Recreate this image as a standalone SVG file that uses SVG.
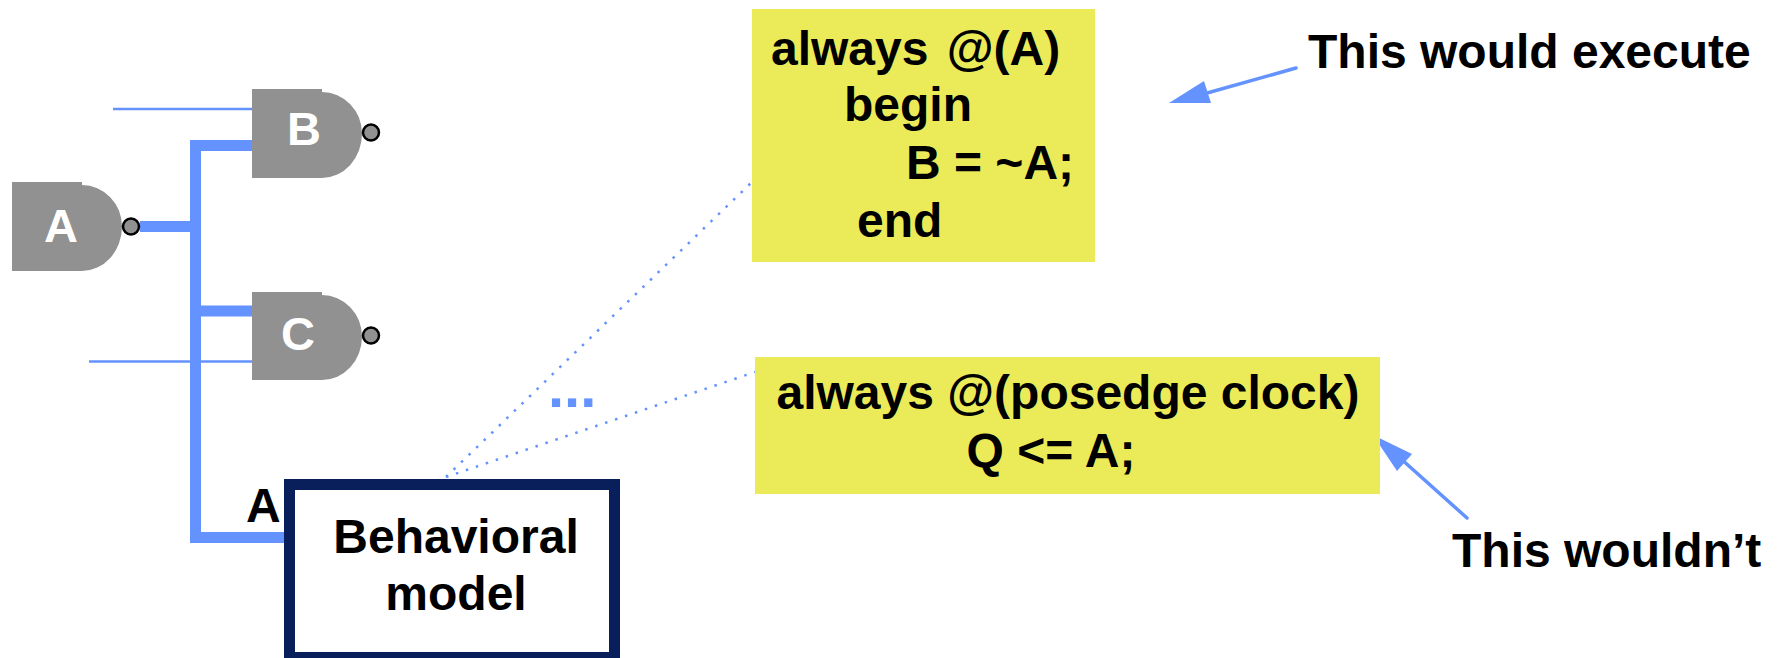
<svg xmlns="http://www.w3.org/2000/svg" width="1778" height="658" viewBox="0 0 1778 658">
<style>
text{font-family:"Liberation Sans",Arial,sans-serif;font-weight:700;font-size:48px;fill:#000}
.gate{fill:#919191}
.bubble{fill:#919191;stroke:#000;stroke-width:2.5}
.gl{fill:#fff;font-size:47px;text-anchor:middle}
.thick{stroke:#6492ff;stroke-width:11;fill:none}
.thin{stroke:#6492ff;stroke-width:2.5;fill:none}
.dot{stroke:#6492ff;stroke-width:2.5;fill:none;stroke-dasharray:2.5 8}
.ptr{stroke:#6492ff;stroke-width:3.5;fill:none;stroke-linecap:round}
.head{fill:#6492ff}
.code{fill:#ebeb5a}
.m{text-anchor:middle}
</style>
<rect width="1778" height="658" fill="#fff"/>
<g id="connectors">
<path class="thin" d="M113 109H254M89 361.500H254"/>
<path class="thick" d="M195.500 140V543M190 145.500H255M190 311H255M140 226.500H195M190 537.500H286"/>
<path class="dot" d="M446 477L752 182M446 477L755 372"/>
<path class="ptr" d="M1296 68L1200 95"/>
<path class="head" d="M1169 103L1204 81L1211 103Z"/>
<path class="ptr" d="M1467 518L1400 458"/>
<path class="head" d="M1373 435L1412 454L1397 471Z"/>
</g>
<g id="gate-a">
<path class="gate" d="M12 182H82V185A40 41.500 0 0 1 122 226.500A40 44.500 0 0 1 82 271H12Z"/>
<circle class="bubble" cx="131" cy="226.500" r="8"/>
<text class="gl" x="61" y="242">A</text>
</g>
<g id="gate-b">
<path class="gate" d="M252 89H322V92A40 41.500 0 0 1 362 133.500A40 44.500 0 0 1 322 178H252Z"/>
<circle class="bubble" cx="371" cy="132.500" r="8"/>
<text class="gl" x="304" y="145">B</text>
</g>
<g id="gate-c">
<path class="gate" d="M252 292H322V295A40 41.500 0 0 1 362 336.500A40 43.500 0 0 1 322 380H252Z"/>
<circle class="bubble" cx="371" cy="335.500" r="8"/>
<text class="gl" x="298" y="350">C</text>
</g>
<g id="behavioral-model">
<rect x="289.500" y="484.500" width="325" height="173" fill="#fff" stroke="#081f5c" stroke-width="11"/>
<text class="m" x="456" y="553">Behavioral</text>
<text class="m" x="456" y="610">model</text>
</g>
<g id="label-a"><text x="246" y="522">A</text></g>
<g id="ellipsis"><text x="548" y="407" style="fill:#6492ff;font-size:58px">...</text></g>
<g id="code-1">
<rect class="code" x="752" y="9" width="343" height="253"/>
<text x="771" y="65" word-spacing="5">always @(A)</text>
<text x="844" y="121">begin</text>
<text x="906" y="179">B = ~A;</text>
<text x="857" y="237">end</text>
</g>
<g id="code-2">
<rect class="code" x="755" y="357" width="625" height="137"/>
<text class="m" x="1068" y="409">always @(posedge clock)</text>
<text class="m" x="1051" y="467">Q &lt;= A;</text>
</g>
<g id="note-1"><text x="1308" y="68">This would execute</text></g>
<g id="note-2"><text x="1452" y="567">This wouldn’t</text></g>
</svg>
